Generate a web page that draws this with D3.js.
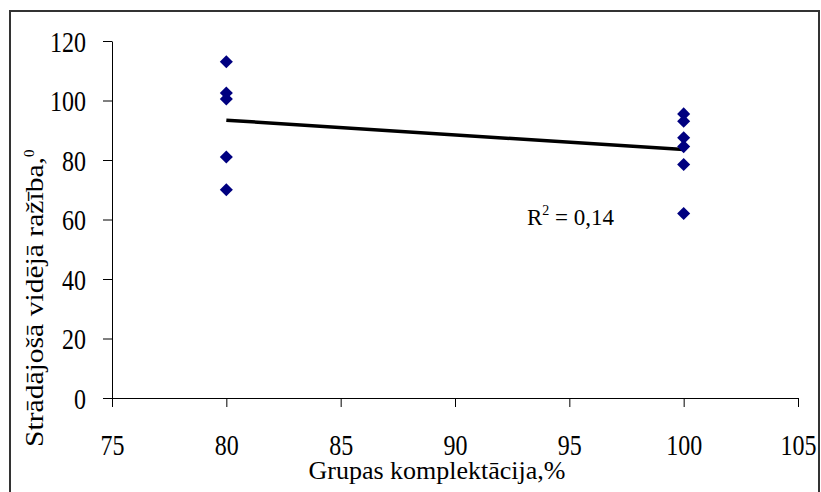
<!DOCTYPE html>
<html>
<head>
<meta charset="utf-8">
<script src="https://cdn.jsdelivr.net/npm/d3@7"></script>
<style>
  body { margin: 0; background: #fff; }
  svg { display: block; }
  svg text { font-family: 'Liberation Serif', 'Times New Roman', serif !important; }
</style>
</head>
<body>
<svg id="chart" width="821" height="492"></svg>
<script>
const xTicks = [75, 80, 85, 90, 95, 100, 105];
const yTicks = [0, 20, 40, 60, 80, 100, 120];
// group completeness (%) and average yield of a worker
const groupPct = [80, 80, 80, 80, 80, 100, 100, 100, 100, 100, 100];
const avgYield = [113, 102.5, 100.5, 81, 70, 95.5, 93, 87.5, 84.5, 78.5, 62];
const r2Label = '0,14';

const svg = d3.select('#chart');
const stretch = 1.25;

// outer frame
svg.append('rect')
   .attr('x', 10).attr('y', 11)
   .attr('width', 809).attr('height', 500)
   .attr('fill', 'none')
   .attr('stroke', '#333')
   .attr('stroke-width', 2);

const x = d3.scaleLinear().domain([75, 105]).range([112, 798]);
const y = d3.scaleLinear().domain([0, 120]).range([398, 41]);

// x axis
const gx = svg.append('g')
  .attr('transform', `translate(0,${y(0)})`)
  .call(d3.axisBottom(x).tickValues(xTicks).tickSize(9).tickSizeOuter(0))
  .attr('font-family', null);
gx.selectAll('text')
  .attr('y', 0).attr('dy', 0)
  .attr('transform', `translate(0,57) scale(1,${stretch})`)
  .style('font-size', '24px');

// y axis
const gy = svg.append('g')
  .attr('transform', `translate(${x(75)},0)`)
  .call(d3.axisLeft(y).tickValues(yTicks).tickSize(9).tickSizeOuter(0))
  .attr('font-family', null);
gy.selectAll('text')
  .attr('x', 0).attr('dy', 0)
  .attr('transform', `translate(-26,10) scale(1,${stretch})`)
  .style('font-size', '24px');

svg.selectAll('.domain, .tick line').attr('stroke', '#000').attr('stroke-width', 1);
svg.selectAll('.tick text').attr('fill', '#000');

// trend line (least squares)
const mx = d3.mean(groupPct), my = d3.mean(avgYield);
const slope = d3.sum(groupPct, (v, i) => (v - mx) * (avgYield[i] - my)) /
              d3.sum(groupPct, v => (v - mx) * (v - mx));
const fit = v => my + slope * (v - mx);
const ends = d3.extent(groupPct);
svg.append('path')
   .attr('d', d3.line().x(d => x(d)).y(d => y(fit(d)))(ends))
   .attr('stroke', '#000')
   .attr('stroke-width', 3.5)
   .attr('fill', 'none');

// points
svg.append('g')
   .selectAll('path')
   .data(groupPct.map((v, i) => [v, avgYield[i]]))
   .join('path')
     .attr('transform', d => `translate(${x(d[0])},${y(d[1])}) rotate(45)`)
     .attr('d', d3.symbol(d3.symbolSquare, 85))
     .attr('fill', '#000080');

// R squared label
const rt = svg.append('text')
  .attr('x', 527).attr('y', 225)
  .style('font-size', '23px');
rt.append('tspan').text('R');
rt.append('tspan').attr('dy', -10).style('font-size', '14px').text('2');
rt.append('tspan').attr('dy', 10).text(` = ${r2Label}`);

// axis titles
svg.append('text')
   .attr('x', 437).attr('y', 479)
   .attr('text-anchor', 'middle')
   .style('font-size', '26px')
   .text('Grupas komplektācija,%');

const yt = svg.append('text')
  .attr('transform', 'translate(43,447) rotate(-90)')
  .style('font-size', '26px');
yt.append('tspan')
  .attr('textLength', 290)
  .attr('lengthAdjust', 'spacingAndGlyphs')
  .text('Strādājošā vidējā ražība,');
yt.append('tspan').attr('dy', -9).style('font-size', '15px').text('0');
</script>
</body>
</html>
